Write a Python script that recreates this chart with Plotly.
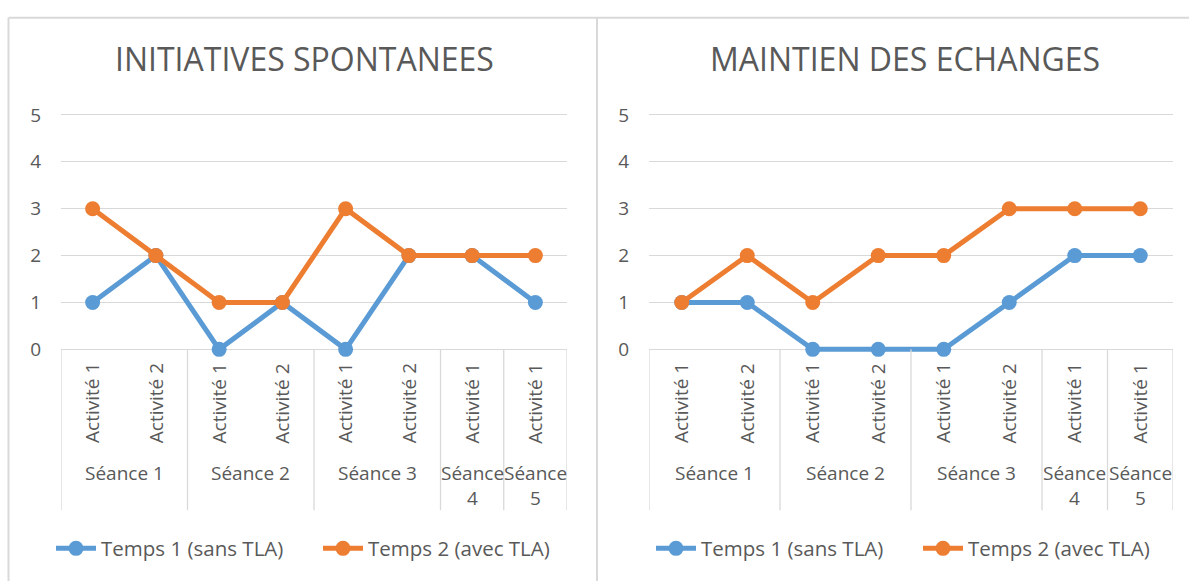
import plotly.graph_objects as go

# ---------------- data ----------------
categories = ["Activité 1", "Activité 2", "Activité 1", "Activité 2",
              "Activité 1", "Activité 2", "Activité 1", "Activité 1"]
sessions = ["Séance 1", "Séance 1", "Séance 2", "Séance 2",
            "Séance 3", "Séance 3", "Séance 4", "Séance 5"]
y_ticks = [0, 1, 2, 3, 4, 5]
titles = ["INITIATIVES SPONTANEES", "MAINTIEN DES ECHANGES"]
series_names = ["Temps 1 (sans TLA)", "Temps 2 (avec TLA)"]

initiatives_t1 = [1, 2, 0, 1, 0, 2, 2, 1]
initiatives_t2 = [3, 2, 1, 1, 3, 2, 2, 2]
maintien_t1 = [1, 1, 0, 0, 0, 1, 2, 2]
maintien_t2 = [1, 2, 1, 2, 2, 3, 3, 3]

# ---------------- styling ----------------
W, H = 1189, 581
FONT = "Open Sans"
TXT = "#595959"
GRID = "#d9d9d9"
COLORS = ["#5b9bd5", "#ed7d31"]
AXIS_FS = 19


def py(p):
    return 1 - p / H


def pxx(p):
    return p / W


Y0_PX, Y5_PX = 350, 111
unit = (Y0_PX - Y5_PX) / 5.0
pad = 0.15
ydom = [py(Y0_PX + pad * unit), py(Y5_PX - pad * unit)]

panels = [
    dict(x0=61, x1=567, title_x=304, data=[initiatives_t1, initiatives_t2],
         xa="x", ya="y", legend="legend", legend_x=318),
    dict(x0=649, x1=1173, title_x=905, data=[maintien_t1, maintien_t2],
         xa="x2", ya="y2", legend="legend2", legend_x=918),
]

n = len(categories)
xs = list(range(n))

fig = go.Figure()
annotations = []
shapes = []

# group boundaries
groups = []
for i, s in enumerate(sessions):
    if not groups or groups[-1][0] != s:
        groups.append([s, i, i])
    else:
        groups[-1][2] = i

for k, p in enumerate(panels):
    for j, (vals, name) in enumerate(zip(p["data"], series_names)):
        fig.add_trace(go.Scatter(
            x=xs, y=vals, name=name, mode="lines+markers",
            line=dict(color=COLORS[j], width=5),
            marker=dict(color=COLORS[j], size=15),
            xaxis=p["xa"], yaxis=p["ya"], legend=p["legend"],
            cliponaxis=False, hoverinfo="skip",
        ))
    # title
    annotations.append(dict(
        text=titles[k], x=pxx(p["title_x"]), y=py(54), xref="paper", yref="paper",
        xanchor="center", yanchor="middle", showarrow=False,
        font=dict(family=FONT, size=32, color=TXT)))
    # category labels (rotated)
    for i, c in enumerate(categories):
        annotations.append(dict(
            text=c, x=i, y=py(405), xref=p["xa"], yref="paper",
            textangle=-90, xanchor="center", yanchor="middle", showarrow=False,
            font=dict(family=FONT, size=AXIS_FS, color=TXT)))
    # session labels and separators
    for s, a, b in groups:
        label = s if b > a else s.replace(" ", "<br>")
        annotations.append(dict(
            text=label, x=(a + b) / 2, y=py(461), xref=p["xa"], yref="paper",
            xanchor="center", yanchor="top", showarrow=False,
            font=dict(family=FONT, size=AXIS_FS, color=TXT)))
    bounds = [-0.5] + [b + 0.5 for _, _, b in groups]
    for bx in bounds:
        shapes.append(dict(type="line", xref=p["xa"], yref="paper",
                           x0=bx, x1=bx, y0=py(Y0_PX), y1=py(514),
                           line=dict(color=GRID, width=1.3)))

# panel borders
border = dict(color=GRID, width=2)
shapes.append(dict(type="line", xref="paper", yref="paper", x0=pxx(8.5), x1=1.01,
                   y0=py(12), y1=py(12), line=border))
shapes.append(dict(type="line", xref="paper", yref="paper", x0=pxx(8.5), x1=pxx(8.5),
                   y0=py(12), y1=-0.01, line=border))
shapes.append(dict(type="line", xref="paper", yref="paper", x0=pxx(597), x1=pxx(597),
                   y0=py(12), y1=-0.01, line=border))

axis_common_x = dict(range=[-0.5, n - 0.5], showticklabels=False, showgrid=False,
                     zeroline=False, showline=False, ticks="", fixedrange=True)
axis_common_y = dict(range=[-pad, 5 + pad], tickvals=y_ticks, showgrid=True,
                     gridcolor=GRID, gridwidth=1.3, zeroline=False, showline=False,
                     ticks="", ticklabelstandoff=19, fixedrange=True,
                     tickfont=dict(family=FONT, size=AXIS_FS, color=TXT), domain=ydom)

legend_common = dict(orientation="h", yanchor="middle", xanchor="center",
                     y=py(553), font=dict(family=FONT, size=20.5, color=TXT),
                     bgcolor="rgba(0,0,0,0)", itemclick=False, itemdoubleclick=False,
                     tracegroupgap=0, entrywidth=212, itemwidth=40)

fig.update_layout(
    width=W, height=H,
    margin=dict(l=0, r=0, t=0, b=0),
    paper_bgcolor="white", plot_bgcolor="white",
    font=dict(family=FONT, color=TXT),
    showlegend=True,
    xaxis=dict(domain=[pxx(panels[0]["x0"]), pxx(panels[0]["x1"])], anchor="y", **axis_common_x),
    yaxis=dict(anchor="x", **axis_common_y),
    xaxis2=dict(domain=[pxx(panels[1]["x0"]), pxx(panels[1]["x1"])], anchor="y2", **axis_common_x),
    yaxis2=dict(anchor="x2", **axis_common_y),
    legend=dict(x=pxx(panels[0]["legend_x"]), **legend_common),
    legend2=dict(x=pxx(panels[1]["legend_x"]), **legend_common),
    annotations=annotations,
    shapes=shapes,
)

post = ("document.body.style.margin='0';document.body.style.padding='0';"
        "document.documentElement.style.overflow='hidden';"
        "document.body.style.overflow='hidden';")
fig.write_html("out.html", config={"responsive": False, "displayModeBar": False},
               post_script=post)
